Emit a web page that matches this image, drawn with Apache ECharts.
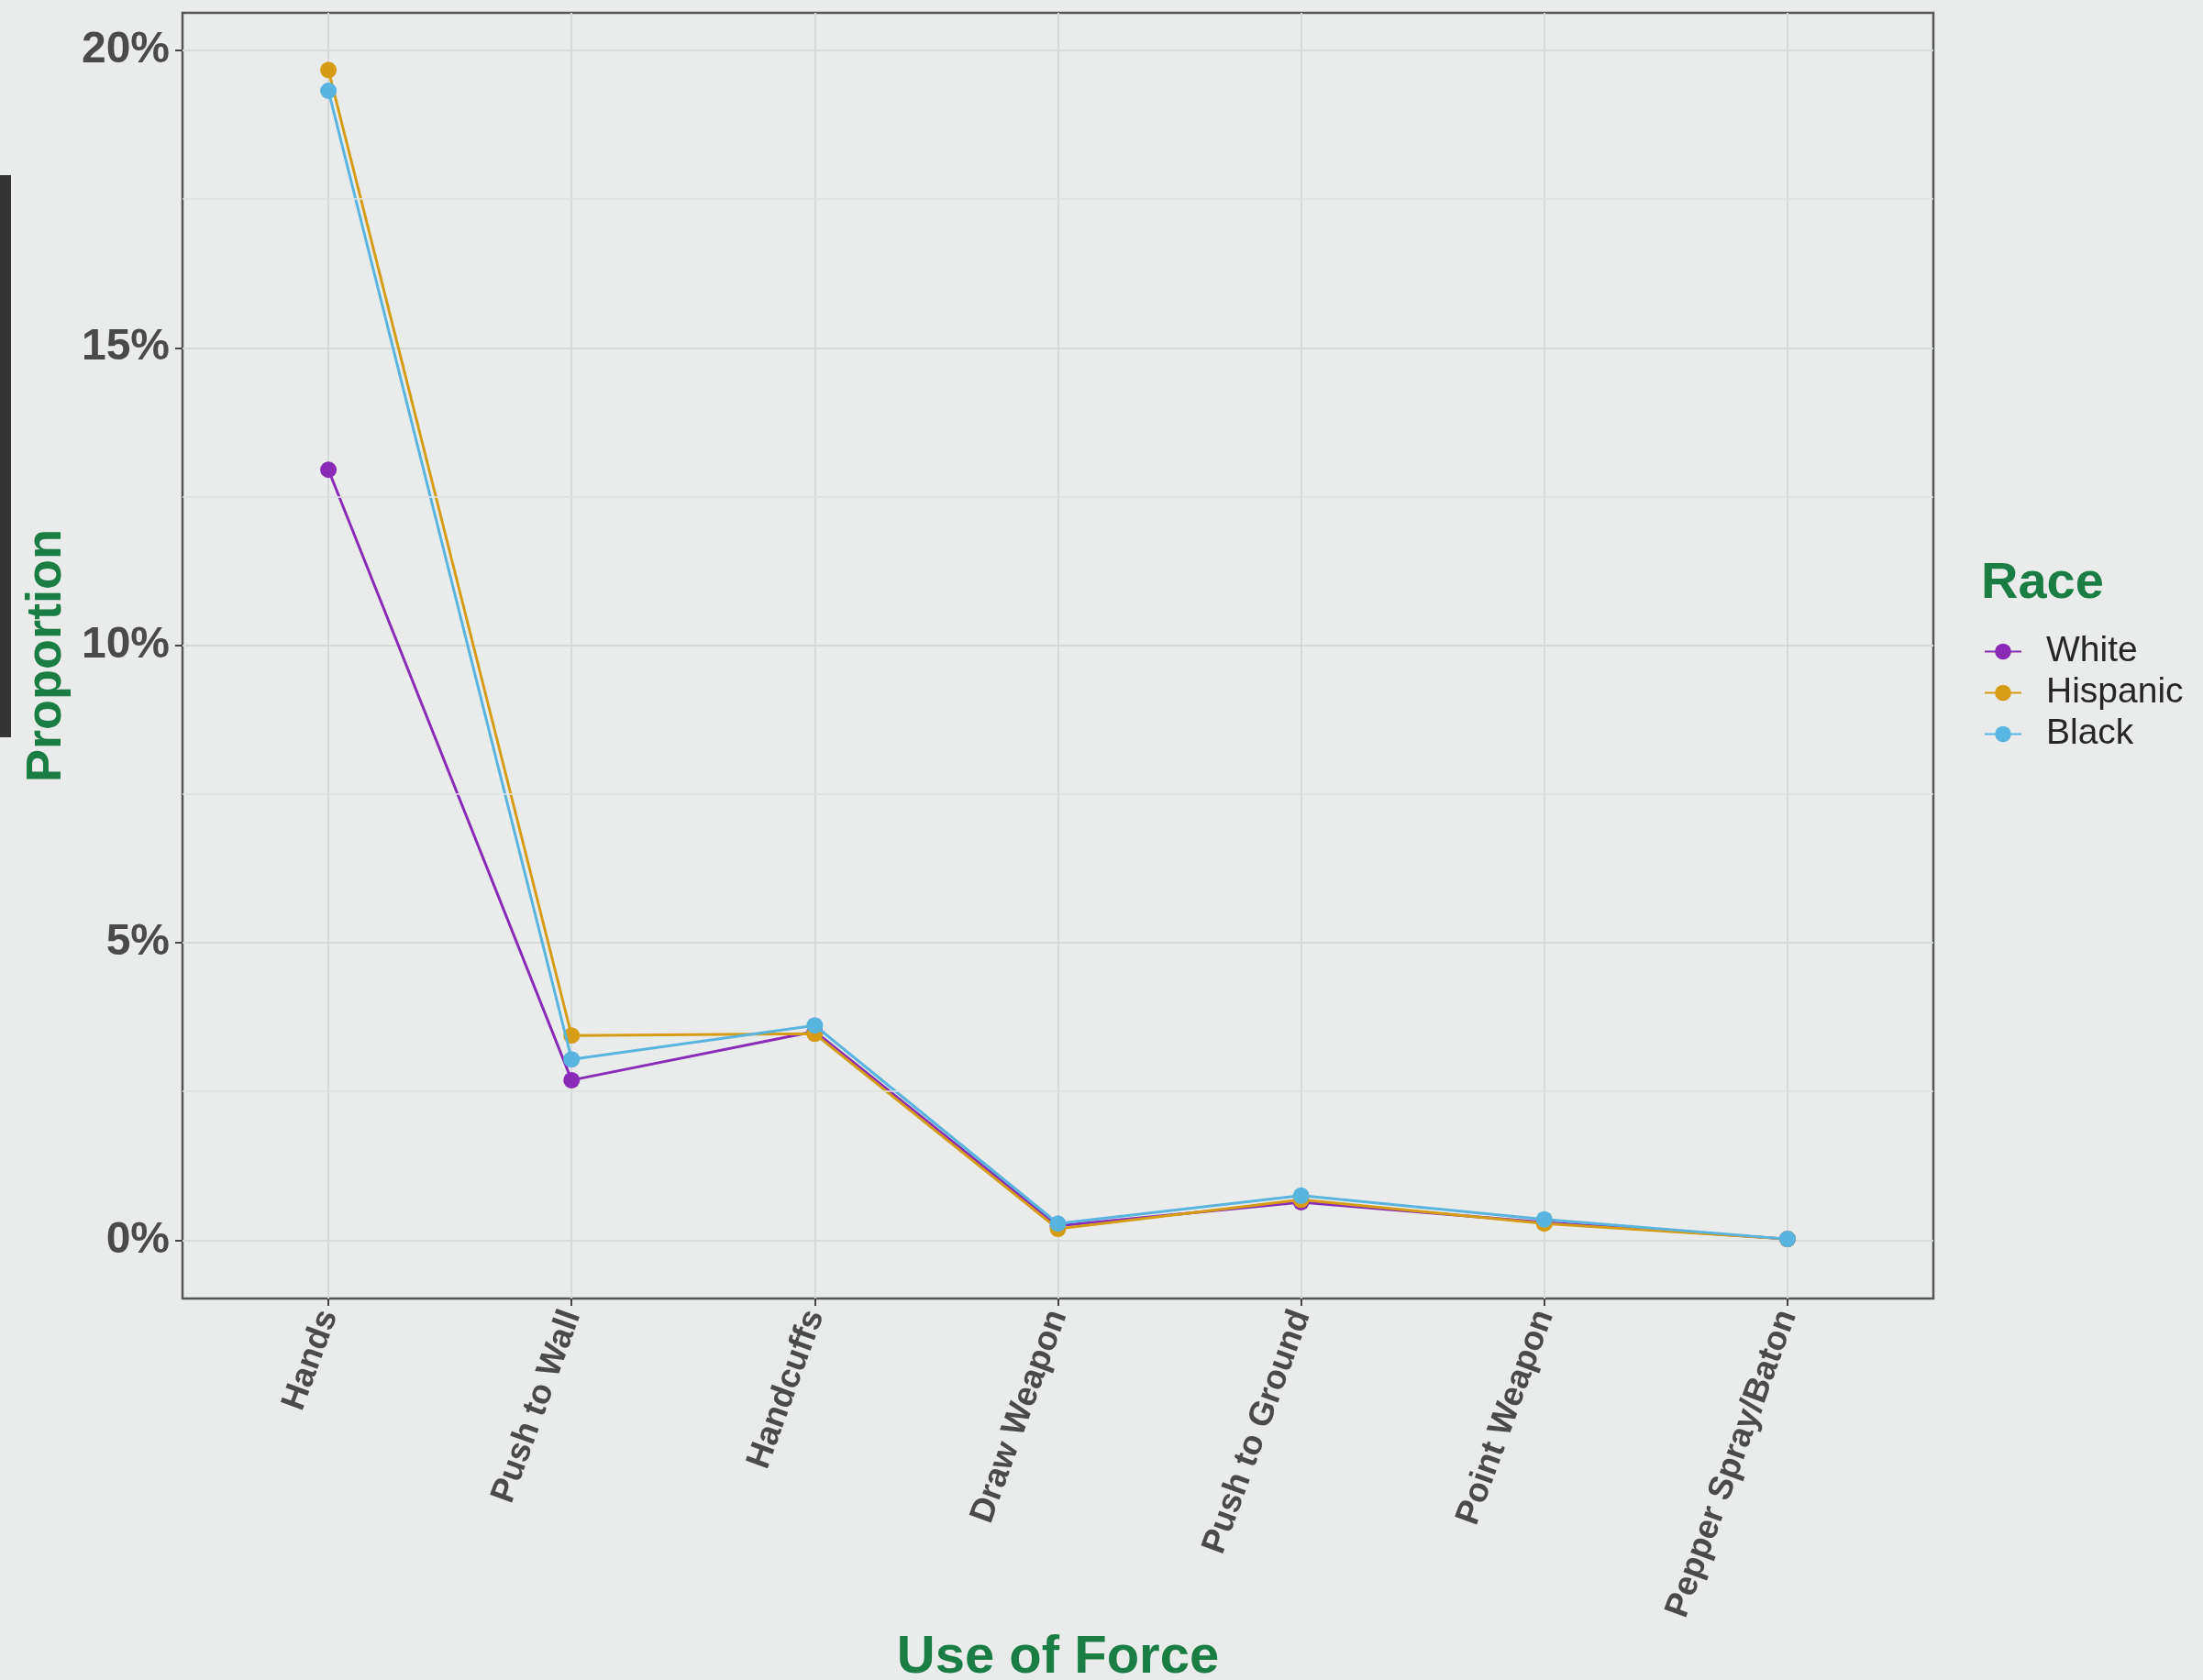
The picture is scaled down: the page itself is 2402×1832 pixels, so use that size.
<!DOCTYPE html>
<html><head><meta charset="utf-8">
<script src="https://cdn.jsdelivr.net/npm/echarts@6/dist/echarts.min.js"></script>
<style>html,body{margin:0;padding:0;background:#e9eceb;} #c{width:2402px;height:1832px;}</style>
</head><body><div id="c"></div>
<script>
const categories = ['Hands','Push to Wall','Handcuffs','Draw Weapon','Push to Ground','Point Weapon','Pepper Spray/Baton'];
const raceNames = ['White','Hispanic','Black'];
const whiteVals = [12.95, 2.69, 3.51, 0.24, 0.64, 0.30, 0.02];
const hispanicVals = [19.67, 3.44, 3.47, 0.19, 0.68, 0.28, 0.02];
const blackVals = [19.32, 3.04, 3.61, 0.28, 0.75, 0.35, 0.02];
const yTicks = [0, 5, 10, 15, 20];
const yMinor = [2.5, 7.5, 12.5, 17.5];
const raceColors = ['#8a2bb8', '#d69c15', '#5ab4e0'];

const FONT = "'Liberation Sans', Arial, sans-serif";
const GREEN = '#1a7d43';
const seriesVals = [whiteVals, hispanicVals, blackVals];
const xIdx = categories.map((c, i) => i);

const chart = echarts.init(document.getElementById('c'), null, {renderer: 'canvas'});
const series = [{
  name: '_minor', type: 'line', data: [], silent: true, z: 0,
  markLine: {
    silent: true, symbol: 'none', label: {show: false},
    lineStyle: {color: '#dfe2e1', width: 1.5, type: 'solid'},
    data: yMinor.map(v => ({yAxis: v}))
  }
}].concat(raceNames.map((n, k) => ({
  name: n, type: 'line', z: 2 + k,
  data: seriesVals[k].map((v, i) => [xIdx[i], v]),
  symbol: 'circle', symbolSize: 18,
  lineStyle: {color: raceColors[k], width: 3},
  itemStyle: {color: raceColors[k]},
  emphasis: {disabled: true},
  animation: false
})));

chart.setOption({
  backgroundColor: '#e9eceb',
  animation: false,
  title: [{
    text: 'Race', left: 2155, top: 604,
    textStyle: {fontFamily: FONT, fontSize: 56, fontWeight: 'bold', color: GREEN}
  }],
  graphic: [{
    type: 'rect', left: 0, top: 191, shape: {width: 12, height: 613},
    style: {fill: '#343434'}
  }],
  legend: {
    data: raceNames, orient: 'vertical', left: 2158, top: 686,
    itemWidth: 40, itemHeight: 22, itemGap: 6,
    textStyle: {fontFamily: FONT, fontSize: 39, color: '#262626', padding: [0, 0, 0, 22]}
  },
  grid: {
    left: 199, right: 294, top: 14, bottom: 416,
    containLabel: false, outerBoundsMode: 'none',
    show: true, borderColor: '#555', borderWidth: 2.5, backgroundColor: 'transparent'
  },
  xAxis: {
    type: 'value', min: -0.6, max: 6.6,
    name: 'Use of Force', nameLocation: 'middle', nameGap: 363,
    nameTextStyle: {fontFamily: FONT, fontSize: 58, fontWeight: 'bold', color: GREEN},
    axisLine: {show: false, onZero: false},
    axisTick: {show: true, customValues: xIdx, length: 8, lineStyle: {color: '#444', width: 2}},
    axisLabel: {
      customValues: xIdx, rotate: 70, margin: 14,
      formatter: v => categories[Math.round(v)],
      fontFamily: FONT, fontSize: 37, fontWeight: 'bold', color: '#4a4a4a'
    },
    splitLine: {show: true, lineStyle: {color: '#d6dad9', width: 2}}
  },
  yAxis: {
    type: 'value', min: -0.98, max: 20.63,
    name: 'Proportion', nameLocation: 'middle', nameGap: 119, nameRotate: 90,
    nameTextStyle: {fontFamily: FONT, fontSize: 54, fontWeight: 'bold', color: GREEN},
    axisLine: {show: false, onZero: false},
    axisTick: {show: true, customValues: yTicks, length: 8, lineStyle: {color: '#444', width: 2}},
    axisLabel: {
      customValues: yTicks, margin: 14,
      formatter: v => v + '%',
      fontFamily: FONT, fontSize: 48, fontWeight: 'bold', color: '#4a4a4a'
    },
    splitLine: {show: true, lineStyle: {color: '#d6dad9', width: 2}}
  },
  series: series
});
</script></body></html>
